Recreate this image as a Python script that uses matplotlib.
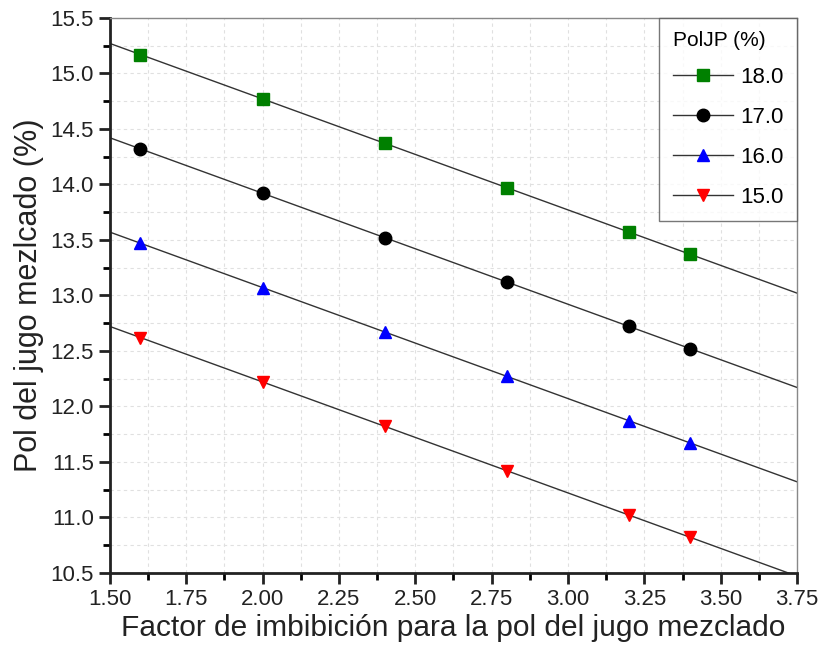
import matplotlib
matplotlib.use("Agg")
import matplotlib.pyplot as plt
import numpy as np
from matplotlib.ticker import MultipleLocator

plt.rcParams['font.family'] = ['Liberation Sans', 'DejaVu Sans']

x = [1.6, 2.0, 2.4, 2.8, 3.2, 3.4]
labels = ['18.0', '17.0', '16.0', '15.0']
y18 = [15.17, 14.77, 14.37, 13.97, 13.57, 13.37]
y17 = [14.32, 13.92, 13.52, 13.12, 12.72, 12.52]
y16 = [13.47, 13.07, 12.67, 12.27, 11.87, 11.67]
y15 = [12.62, 12.22, 11.82, 11.42, 11.02, 10.82]
series = [y18, y17, y16, y15]
markers = ['s', 'o', '^', 'v']
colors = ['#008000', '#000000', '#0000FF', '#FF0000']

fig = plt.figure(figsize=(8.26, 6.63), dpi=100)
ax = fig.add_axes([0.133, 0.136, 0.832, 0.837])

xl = np.array([1.5, 3.75])
for ys, m, c, lab in zip(series, markers, colors, labels):
    k, b = np.polyfit(x, ys, 1)
    ax.plot(xl, k * xl + b, color='#333333', lw=1.0, zorder=2)
    ax.plot(x, ys, linestyle='none', marker=m, color=c, markersize=9, zorder=3)
    ax.plot([], [], color='#333333', lw=1.0, marker=m, markerfacecolor=c,
            markeredgecolor=c, markersize=9, label=lab)

ax.set_xlim(1.5, 3.75)
ax.set_ylim(10.5, 15.5)
ax.xaxis.set_major_locator(MultipleLocator(0.25))
ax.xaxis.set_minor_locator(MultipleLocator(0.125))
ax.yaxis.set_major_locator(MultipleLocator(0.5))
ax.yaxis.set_minor_locator(MultipleLocator(0.25))
ax.xaxis.set_major_formatter(matplotlib.ticker.FormatStrFormatter('%.2f'))
ax.yaxis.set_major_formatter(matplotlib.ticker.FormatStrFormatter('%.1f'))
ax.grid(True, which='both', linestyle=(0, (3, 3)), color='#e0e0e0', lw=0.8, zorder=0)
ax.tick_params(which='major', direction='out', length=8, width=2, labelsize=16, colors='#222222')
ax.tick_params(which='minor', direction='out', length=5, width=2)
for s in ['left', 'bottom']:
    ax.spines[s].set_linewidth(2)
    ax.spines[s].set_color('#222222')
for s in ['top', 'right']:
    ax.spines[s].set_linewidth(1)
    ax.spines[s].set_color('#888888')

ax.set_xlabel('Factor de imbibición para la pol del jugo mezclado', fontsize=21.5, labelpad=3, color='#222222')
ax.set_ylabel('Pol del jugo mezlcado (%)', fontsize=22, labelpad=5, color='#222222')

leg = ax.legend(title='PolJP (%)', loc='upper right', fontsize=16, title_fontsize=15,
                frameon=True, fancybox=False, edgecolor='#555555', borderaxespad=0,
                handlelength=2.7, handletextpad=0.35, labelspacing=0.85, borderpad=0.6,
                alignment='left')
leg.get_frame().set_linewidth(1.0)
leg._legend_box.sep = 12

fig.savefig('out.png', dpi=100)
